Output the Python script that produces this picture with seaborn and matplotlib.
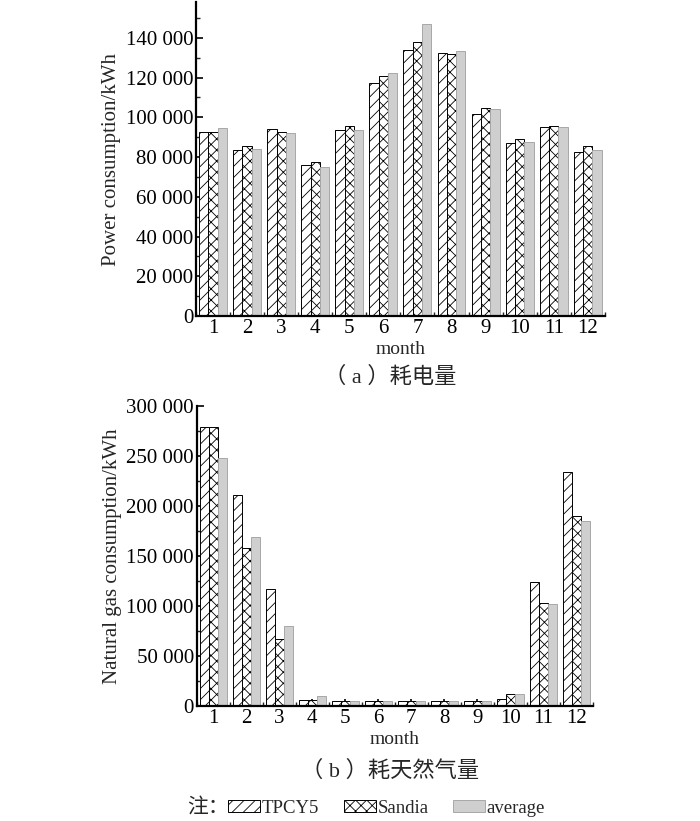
import matplotlib
matplotlib.use("Agg")
import matplotlib.pyplot as plt
import matplotlib.ticker as mticker
from matplotlib.patches import Patch
import seaborn as sns
import pandas as pd

sns.set_style("ticks")
plt.rcParams['font.family'] = ['Liberation Serif', 'Noto Sans CJK SC']
plt.rcParams['hatch.linewidth'] = 0.6

months = [str(m) for m in range(1, 13)]
series = ["TPCY5", "Sandia", "average"]

power_tpcy5 = [92500, 83300, 93900, 75800, 93700, 117400, 133800, 132300, 101400, 86900, 94900, 82700]
power_sandia = [92500, 85800, 92700, 77300, 95400, 120900, 137800, 131800, 104800, 88900, 95600, 85700]
power_avg = [94700, 83800, 92200, 74900, 93400, 122200, 146900, 133300, 104000, 87400, 94900, 83700]

gas_tpcy5 = [278700, 211500, 117200, 5700, 4700, 4700, 4700, 4700, 4700, 6700, 123900, 233800]
gas_sandia = [278700, 158500, 66900, 5700, 4700, 4700, 4700, 4700, 4700, 11700, 102600, 190500]
gas_avg = [248400, 168800, 80300, 9700, 4700, 4700, 4700, 4700, 4700, 11700, 102200, 185200]

power_ticks = [0, 20000, 40000, 60000, 80000, 100000, 120000, 140000]
gas_ticks = [0, 50000, 100000, 150000, 200000, 250000, 300000]


def long_df(a, b, c):
    rows = []
    for s, vals in zip(series, [a, b, c]):
        for m, v in zip(months, vals):
            rows.append({"month": m, "series": s, "value": v})
    return pd.DataFrame(rows)


styles = {
    "TPCY5": dict(facecolor="white", edgecolor="black", hatch="///"),
    "Sandia": dict(facecolor="white", edgecolor="black", hatch="xxx"),
    "average": dict(facecolor="#cfcfcf", edgecolor="#a8a8a8", hatch=None),
}

fig = plt.figure(figsize=(7.0, 8.21), dpi=100)
ax1 = fig.add_axes([0.28, 0.615, 0.584, 0.3826])
ax2 = fig.add_axes([0.281, 0.14, 0.566, 0.3655])

fmt = mticker.FuncFormatter(lambda v, p: f"{int(v):,}".replace(",", " "))

FS = 15


def draw(ax, df, ylabel, ticks, ylim, xlim):
    sns.barplot(data=df, x="month", y="value", hue="series", hue_order=series,
                palette=["white", "white", "#cfcfcf"], width=0.82, ax=ax,
                legend=False, saturation=1, errorbar=None)
    for cont, s in zip(ax.containers, series):
        st = styles[s]
        for bar in cont:
            bar.set_facecolor(st["facecolor"])
            bar.set_edgecolor(st["edgecolor"])
            bar.set_linewidth(0.7)
            if st["hatch"]:
                bar.set_hatch(st["hatch"])
    ax.set_ylim(*ylim)
    ax.set_xlim(*xlim)
    ax.set_yticks(ticks)
    ax.yaxis.set_major_formatter(fmt)
    ax.yaxis.set_minor_locator(mticker.AutoMinorLocator(2))
    ax.set_xticks(range(12))
    ax.set_xticklabels(months)
    ax.set_xticks([i + 0.5 for i in range(-1, 12)], minor=True)
    ax.tick_params(axis="both", which="major", direction="in", length=5, width=1.2,
                   labelsize=FS, pad=2, colors="black")
    ax.tick_params(axis="both", which="minor", direction="in", length=3, width=1.0)
    for sp in ["top", "right"]:
        ax.spines[sp].set_visible(False)
    for sp in ["left", "bottom"]:
        ax.spines[sp].set_linewidth(1.6)
        ax.spines[sp].set_color("black")
    ax.set_xlabel("month", fontsize=14, labelpad=2)
    ax.set_ylabel(ylabel, fontsize=FS, labelpad=3)


draw(ax1, long_df(power_tpcy5, power_sandia, power_avg), "Power consumption/kWh",
     power_ticks, (0, 158000), (-0.465, 11.38))
draw(ax2, long_df(gas_tpcy5, gas_sandia, gas_avg), "Natural gas consumption/kWh",
     gas_ticks, (0, 300000), (-0.455, 11.33))

fig.text(0.557, 1 - 377 / 821, "（ a ）耗电量", ha="center", va="center", fontsize=16)
fig.text(0.557, 1 - 771 / 821, "（ b ）耗天然气量", ha="center", va="center", fontsize=16)

handles = [Patch(facecolor=styles[s]["facecolor"], edgecolor=styles[s]["edgecolor"],
                 hatch=styles[s]["hatch"], linewidth=0.7) for s in series]
fig.text(0.268, 1 - 808 / 821, "注：", ha="left", va="center", fontsize=15)
fig.legend(handles, series, loc="center left", bbox_to_anchor=(0.326, 1 - 808 / 821),
           ncol=3, frameon=False, fontsize=13.5, handlelength=1.7, handleheight=0.55,
           handletextpad=0.1, columnspacing=1.3, borderpad=0, borderaxespad=0)

fig.savefig("out.png", dpi=100)
